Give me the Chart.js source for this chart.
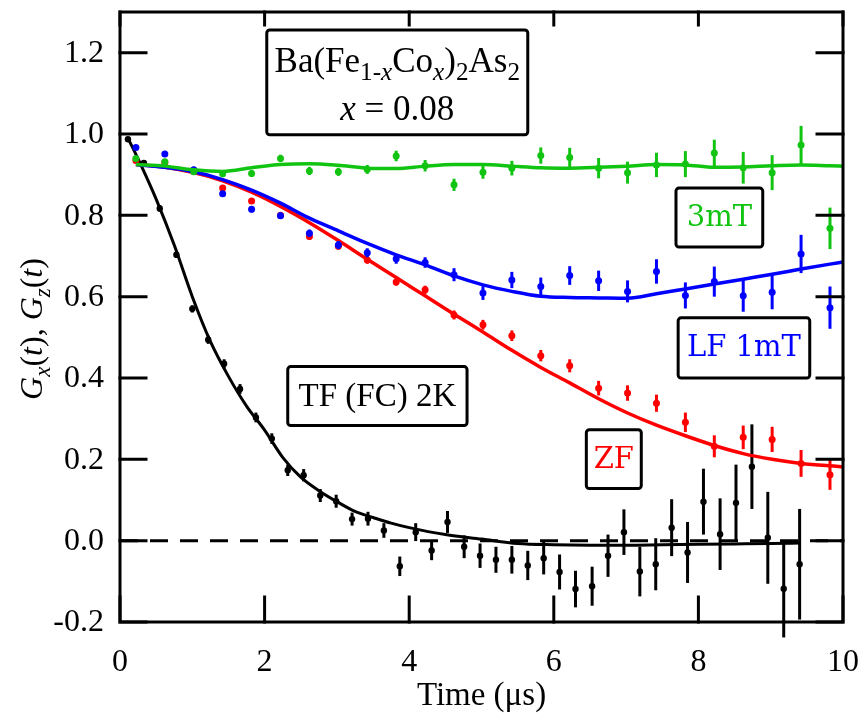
<!DOCTYPE html>
<html>
<head>
<meta charset="utf-8">
<script src="https://cdn.jsdelivr.net/npm/chart.js"></script>
<style>
  html, body { margin: 0; padding: 0; background: #ffffff; }
  #wrap { width: 863px; height: 715px; }
</style>
</head>
<body>
<div id="wrap"><canvas id="c" width="863" height="715"></canvas></div>
<script>
// ---- Transverse field (field cooled), 2 K ----
const tfTime = [0.11, 0.33, 0.55, 0.78, 1.00, 1.22, 1.44, 1.66, 1.88, 2.10, 2.32, 2.54, 2.77, 2.99,
  3.21, 3.43, 3.65, 3.87, 4.09, 4.31, 4.53, 4.76, 4.98, 5.20, 5.42, 5.64, 5.86, 6.08, 6.30, 6.53,
  6.75, 6.97, 7.19, 7.41, 7.63, 7.85, 8.07, 8.30, 8.52, 8.74, 8.96, 9.18, 9.40];
const tfAsym = [0.987, 0.929, 0.817, 0.703, 0.570, 0.494, 0.435, 0.373, 0.303, 0.251, 0.173, 0.161,
  0.111, 0.097, 0.053, 0.054, 0.025, -0.063, 0.021, -0.024, 0.046, -0.015, -0.037, -0.047, -0.047,
  -0.061, -0.043, -0.077, -0.119, -0.112, -0.037, 0.021, -0.076, -0.058, 0.032, -0.029, 0.096,
  0.016, 0.093, 0.182, 0.007, -0.118, -0.058];
const tfErr = [0.006, 0.007, 0.008, 0.008, 0.009, 0.010, 0.011, 0.012, 0.012, 0.013, 0.014, 0.015,
  0.016, 0.016, 0.016, 0.017, 0.018, 0.024, 0.022, 0.024, 0.027, 0.028, 0.030, 0.032, 0.034, 0.036,
  0.040, 0.043, 0.045, 0.048, 0.052, 0.056, 0.061, 0.064, 0.070, 0.075, 0.081, 0.088, 0.094, 0.104,
  0.113, 0.120, 0.136];
const tfFitTime = [0.11, 0.3, 0.5, 0.75, 1.0, 1.25, 1.5, 1.75, 2.0, 2.25, 2.5, 2.75, 3.0, 3.25, 3.5,
  3.75, 4.0, 4.5, 5.0, 5.5, 6.0, 6.5, 7.0, 7.5, 8.0, 8.5, 9.0, 9.4];
const tfFit = [0.99, 0.92, 0.84, 0.727, 0.60, 0.49, 0.404, 0.331, 0.272, 0.205, 0.156, 0.123, 0.096,
  0.072, 0.057, 0.043, 0.032, 0.015, 0.004, -0.007, -0.010, -0.011, -0.011, -0.010, -0.009, -0.008,
  -0.007, -0.006];

// ---- Zero field / longitudinal field runs share one time grid ----
const lfTime = [0.22, 0.62, 1.02, 1.42, 1.82, 2.22, 2.62, 3.02, 3.42, 3.82, 4.22, 4.62, 5.02, 5.42,
  5.82, 6.22, 6.62, 7.02, 7.42, 7.82, 8.22, 8.62, 9.02, 9.42, 9.82];

const zfAsym = [0.935, 0.930, 0.908, 0.867, 0.835, 0.800, 0.748, 0.724, 0.690, 0.636, 0.617, 0.555,
  0.531, 0.504, 0.455, 0.430, 0.375, 0.363, 0.338, 0.291, 0.232, 0.254, 0.249, 0.190, 0.162];
const zfErr = [0.005, 0.005, 0.006, 0.006, 0.007, 0.007, 0.008, 0.008, 0.009, 0.009, 0.010, 0.011,
  0.012, 0.013, 0.014, 0.016, 0.018, 0.019, 0.021, 0.024, 0.027, 0.029, 0.031, 0.033, 0.037];

const lf1Asym = [0.967, 0.951, 0.912, 0.853, 0.815, 0.799, 0.756, 0.727, 0.708, 0.693, 0.684, 0.654,
  0.609, 0.641, 0.625, 0.652, 0.639, 0.613, 0.662, 0.603, 0.637, 0.602, 0.611, 0.705, 0.573];
const lf1Err = [0.006, 0.006, 0.007, 0.007, 0.008, 0.008, 0.009, 0.010, 0.011, 0.012, 0.013, 0.016,
  0.017, 0.020, 0.022, 0.023, 0.025, 0.027, 0.030, 0.032, 0.037, 0.039, 0.042, 0.047, 0.052];

const lf3Asym = [0.940, 0.932, 0.907, 0.902, 0.903, 0.940, 0.909, 0.907, 0.913, 0.946, 0.922, 0.875,
  0.906, 0.916, 0.947, 0.942, 0.916, 0.905, 0.924, 0.926, 0.953, 0.917, 0.905, 0.973, 0.768];
const lf3Err = [0.006, 0.006, 0.007, 0.008, 0.008, 0.009, 0.010, 0.010, 0.011, 0.013, 0.014, 0.015,
  0.016, 0.018, 0.020, 0.024, 0.025, 0.027, 0.030, 0.032, 0.033, 0.039, 0.043, 0.047, 0.051];

// fit curves for the ZF / LF runs
const fitTime = [0.22, 0.62, 1.02, 1.42, 1.82, 2.22, 2.62, 3.02, 3.42, 3.82, 4.22, 4.62, 5.02, 5.42,
  5.82, 6.22, 6.62, 7.02, 7.42, 7.82, 8.22, 8.62, 9.02, 9.42, 9.82, 10.0];
const zfFit = [0.925, 0.918, 0.905, 0.885, 0.857, 0.822, 0.782, 0.738, 0.692, 0.647, 0.602, 0.557,
  0.513, 0.468, 0.426, 0.388, 0.349, 0.314, 0.284, 0.258, 0.234, 0.214, 0.200, 0.190, 0.184, 0.182];
const lf1Fit = [0.925, 0.918, 0.907, 0.888, 0.862, 0.830, 0.793, 0.762, 0.731, 0.703, 0.678, 0.651,
  0.629, 0.613, 0.601, 0.598, 0.597, 0.596, 0.607, 0.619, 0.631, 0.643, 0.655, 0.668, 0.680, 0.685];
const lf3Fit = [0.925, 0.921, 0.912, 0.908, 0.917, 0.925, 0.927, 0.923, 0.916, 0.915, 0.921, 0.925,
  0.925, 0.921, 0.917, 0.916, 0.918, 0.921, 0.925, 0.924, 0.918, 0.919, 0.922, 0.924, 0.922, 0.921];

// axis ticks
const xTicks = [0, 2, 4, 6, 8, 10];
const yTicks = [-0.2, 0.0, 0.2, 0.4, 0.6, 0.8, 1.0, 1.2];

const BLACK = '#000000';
const RED = '#ff0000';
const BLUE = '#0000ff';
const GREEN = '#12c412';

const pts = (xs, ys) => xs.map((x, i) => ({ x: x, y: ys[i] }));

function pointSet(label, xs, ys, errs, color, radius, order) {
  return {
    type: 'scatter', label: label, data: pts(xs, ys), errors: errs,
    backgroundColor: color, borderColor: color, borderWidth: 0,
    pointRadius: radius, pointHoverRadius: radius, showLine: false, order: order
  };
}
function fitSet(label, xs, ys, color, width, order) {
  return {
    type: 'line', label: label, data: pts(xs, ys),
    borderColor: color, backgroundColor: color, borderWidth: width,
    pointRadius: 0, fill: false, order: order,
    cubicInterpolationMode: 'monotone'
  };
}

// vertical error bars, drawn under each point set
const errorBars = {
  id: 'errorBars',
  beforeDatasetDraw(chart, args) {
    const ds = chart.data.datasets[args.index];
    if (!ds.errors) return;
    const ctx = chart.ctx, xs = chart.scales.x, ys = chart.scales.y;
    ctx.save();
    ctx.strokeStyle = ds.backgroundColor;
    ctx.lineWidth = 3;
    ds.data.forEach((p, i) => {
      const px = xs.getPixelForValue(p.x);
      ctx.beginPath();
      ctx.moveTo(px, ys.getPixelForValue(p.y - ds.errors[i]));
      ctx.lineTo(px, ys.getPixelForValue(p.y + ds.errors[i]));
      ctx.stroke();
    });
    ctx.restore();
  }
};

// rich text: segments {t, it, sub}
function richWidth(ctx, segs, size, family) {
  let w = 0;
  segs.forEach(s => {
    const fs = s.sub ? size * 0.72 : size;
    ctx.font = (s.it ? 'italic ' : '') + fs + 'px ' + family;
    w += ctx.measureText(s.t).width;
  });
  return w;
}
function drawRich(ctx, segs, cx, baseline, size, family, color) {
  const total = richWidth(ctx, segs, size, family);
  let x = cx - total / 2;
  ctx.fillStyle = color;
  ctx.textAlign = 'left';
  ctx.textBaseline = 'alphabetic';
  segs.forEach(s => {
    const fs = s.sub ? size * 0.72 : size;
    ctx.font = (s.it ? 'italic ' : '') + fs + 'px ' + family;
    ctx.fillText(s.t, x, baseline + (s.sub ? size * 0.24 : 0));
    x += ctx.measureText(s.t).width;
  });
}

function labelBox(ctx, xs, ys, t0, t1, v0, v1) {
  const l = xs.getPixelForValue(t0), r = xs.getPixelForValue(t1);
  const t = ys.getPixelForValue(v0), b = ys.getPixelForValue(v1);
  ctx.save();
  ctx.fillStyle = '#ffffff';
  ctx.strokeStyle = BLACK;
  ctx.lineWidth = 3;
  ctx.beginPath();
  ctx.roundRect(l, t, r - l, b - t, 3);
  ctx.fill();
  ctx.stroke();
  ctx.restore();
  return { cx: (l + r) / 2, cy: (t + b) / 2, top: t };
}

const SERIF = '"Liberation Serif", serif';
const DSERIF = '"DejaVu Serif", serif';

// frame, inward ticks, labels, titles and annotation boxes
const frame = {
  id: 'frame',
  afterDraw(chart) {
    const ctx = chart.ctx, a = chart.chartArea;
    const xs = chart.scales.x, ys = chart.scales.y;
    ctx.save();
    ctx.strokeStyle = BLACK;
    ctx.lineWidth = 3;
    ctx.lineCap = 'square';
    ctx.beginPath();
    xTicks.forEach(v => {
      const px = xs.getPixelForValue(v);
      ctx.moveTo(px, a.bottom); ctx.lineTo(px, a.bottom - 25);
      ctx.moveTo(px, a.top); ctx.lineTo(px, a.top + 13);
    });
    yTicks.forEach(v => {
      const py = ys.getPixelForValue(v);
      ctx.moveTo(a.left, py); ctx.lineTo(a.left + 26, py);
      ctx.moveTo(a.right, py); ctx.lineTo(a.right - 26, py);
    });
    ctx.stroke();
    ctx.lineCap = 'butt';
    ctx.strokeRect(a.left, a.top, a.right - a.left, a.bottom - a.top);

    // tick labels
    ctx.fillStyle = BLACK;
    ctx.font = '32px ' + SERIF;
    ctx.textAlign = 'right';
    ctx.textBaseline = 'middle';
    yTicks.forEach(v => ctx.fillText(v.toFixed(1), a.left - 16, ys.getPixelForValue(v) + 1));
    ctx.textAlign = 'center';
    ctx.textBaseline = 'alphabetic';
    xTicks.forEach(v => ctx.fillText(String(v), xs.getPixelForValue(v), a.bottom + 49));

    // axis titles
    ctx.font = '33px ' + SERIF;
    ctx.fillText('Time (\u03bcs)', (a.left + a.right) / 2, a.bottom + 83);
    ctx.save();
    ctx.translate(31, (a.top + a.bottom) / 2 + 12);
    ctx.rotate(-Math.PI / 2);
    drawRich(ctx, [
      { t: 'G', it: true }, { t: 'x', it: true, sub: true }, { t: '(' }, { t: 't', it: true }, { t: '), ' },
      { t: 'G', it: true }, { t: 'z', it: true, sub: true }, { t: '(' }, { t: 't', it: true }, { t: ')' }
    ], 0, 11, 32, SERIF, BLACK);
    ctx.restore();

    // compound label
    const tb = labelBox(ctx, xs, ys, 2.03, 5.64, 1.256, 0.998);
    drawRich(ctx, [
      { t: 'Ba(Fe' }, { t: '1-', sub: true }, { t: 'x', it: true, sub: true }, { t: 'Co' },
      { t: 'x', it: true, sub: true }, { t: ')' }, { t: '2', sub: true }, { t: 'As' }, { t: '2', sub: true }
    ], tb.cx, tb.top + 42, 35, SERIF, BLACK);
    drawRich(ctx, [{ t: 'x', it: true }, { t: ' = 0.08' }], tb.cx, tb.top + 90, 35, SERIF, BLACK);

    // run labels
    const b1 = labelBox(ctx, xs, ys, 2.32, 4.80, 0.428, 0.283);
    ctx.fillStyle = BLACK; ctx.font = '33px ' + SERIF; ctx.textAlign = 'center'; ctx.textBaseline = 'middle';
    ctx.fillText('TF (FC) 2K', b1.cx, b1.cy + 1);
    const b2 = labelBox(ctx, xs, ys, 7.69, 8.89, 0.867, 0.722);
    ctx.fillStyle = GREEN; ctx.font = '29px ' + DSERIF;
    ctx.fillText('3mT', b2.cx, b2.cy + 1);
    const b3 = labelBox(ctx, xs, ys, 7.72, 9.54, 0.548, 0.400);
    ctx.fillStyle = BLUE;
    ctx.fillText('LF 1mT', b3.cx, b3.cy + 1);
    const b4 = labelBox(ctx, xs, ys, 6.45, 7.21, 0.273, 0.128);
    ctx.fillStyle = RED;
    ctx.fillText('ZF', b4.cx, b4.cy + 1);
    ctx.restore();
  }
};

const zeroLine = {
  type: 'line', label: 'zero', data: [{ x: 0, y: 0 }, { x: 10, y: 0 }],
  borderColor: BLACK, borderWidth: 3, borderDash: [18, 12], pointRadius: 0, fill: false, order: 20
};

new Chart(document.getElementById('c'), {
  data: {
    datasets: [
      zeroLine,
      fitSet('TF fit', tfFitTime, tfFit, BLACK, 3, 19),
      pointSet('TF (FC) 2K', tfTime, tfAsym, tfErr, BLACK, 3.2, 18),
      fitSet('ZF fit', fitTime, zfFit, RED, 3.5, 17),
      pointSet('ZF', lfTime, zfAsym, zfErr, RED, 3.5, 16),
      fitSet('LF 1mT fit', fitTime, lf1Fit, BLUE, 3.5, 15),
      pointSet('LF 1mT', lfTime, lf1Asym, lf1Err, BLUE, 3.5, 14),
      fitSet('3mT fit', fitTime, lf3Fit, GREEN, 3.5, 13),
      pointSet('3mT', lfTime, lf3Asym, lf3Err, GREEN, 3.5, 12)
    ]
  },
  options: {
    responsive: false,
    animation: false,
    devicePixelRatio: 1,
    layout: { padding: { top: 12, right: 20, left: 0, bottom: 0 } },
    plugins: { legend: { display: false }, tooltip: { enabled: false } },
    scales: {
      x: {
        type: 'linear', min: 0, max: 10,
        grid: { display: false, drawTicks: false }, border: { display: false },
        ticks: { display: false, stepSize: 2 },
        afterFit: s => { s.height = 93; }
      },
      y: {
        type: 'linear', min: -0.2, max: 1.3,
        grid: { display: false, drawTicks: false }, border: { display: false },
        ticks: { display: false, stepSize: 0.2 },
        afterFit: s => { s.width = 120; }
      }
    }
  },
  plugins: [errorBars, frame]
});
</script>
</body>
</html>
